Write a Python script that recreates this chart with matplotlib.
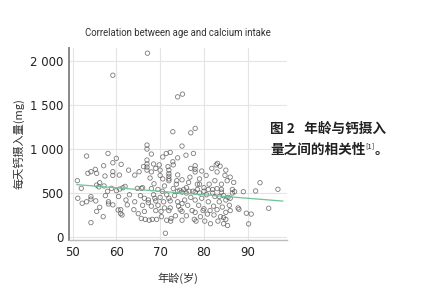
import matplotlib
matplotlib.use("Agg")
import matplotlib.pyplot as plt
from matplotlib.ticker import FuncFormatter

plt.rcParams['font.family'] = ['Noto Sans CJK SC', 'DejaVu Sans']

# (age, daily calcium intake in mg)
ages = [
    51.1, 51.2, 52.0, 52.2, 53.2, 53.2, 53.5, 54.2, 54.2, 54.2, 54.2, 55.2, 55.3, 55.5, 55.5, 55.5, 56.0, 56.2, 56.2,
    57.0, 57.1, 57.2, 57.4, 58.1, 58.2, 58.2, 58.9, 59.2, 59.2, 59.2, 59.2, 59.2, 60.0, 60.0, 60.4, 60.7, 60.8, 61.0,
    61.0, 61.1, 61.3, 61.5, 62.0, 62.5, 62.2,
    64.0, 64.2, 64.2, 64.8, 65.0, 65.2, 65.7, 65.7, 66.0, 66.2, 66.4, 66.4, 66.6, 67.0, 67.0, 67.0, 67.0, 67.0, 67.0,
    67.1, 67.3, 67.3, 67.5,
    67.7, 68.0, 68.0, 68.0, 68.0, 68.2, 68.5, 68.6, 68.8, 69.0, 69.0, 69.0, 69.2, 69.5, 69.8, 70.0, 70.0, 70.0, 70.2,
    70.3, 70.6, 70.6, 70.8, 71.0, 71.2, 71.4, 71.5, 71.8, 72.0, 72.0, 72.0, 72.0, 72.0, 72.0, 72.0, 72.3, 72.3, 72.3,
    72.4, 72.5,
    72.9, 72.9, 73.0, 73.3, 73.5, 73.7, 74.0, 74.0, 74.0, 74.0, 74.0, 74.2, 74.5, 74.6, 75.0, 75.0, 75.0, 75.0, 75.0,
    75.0, 75.1, 75.4, 75.6, 75.9, 76.0, 76.0, 76.3, 76.5, 76.6, 77.0, 77.0,
    77.3, 77.5, 77.6, 77.8, 78.0, 78.0, 78.0, 78.0, 78.0, 78.0, 78.0, 78.2, 78.5, 78.8, 79.0, 79.0, 79.2, 79.5, 79.5,
    80.0, 80.0, 80.2, 80.5, 80.6, 80.8, 81.0, 81.2, 81.4, 81.5, 81.8,
    82.0, 82.2, 82.3, 82.5, 82.8, 83.0, 83.0, 83.1, 83.2, 83.5, 83.5, 83.7, 83.8, 84.0, 84.0, 84.2, 84.5, 84.5, 84.8,
    85.0, 85.0, 85.0, 85.0, 85.3, 85.4, 85.8, 86.0, 86.5, 86.5, 86.8, 87.0, 87.8,
    88.0, 89.0, 89.7, 90.2, 90.8, 91.8, 92.8, 94.8, 96.9,
    70.5, 71.0, 71.5, 73.0, 73.8, 76.8, 77.0, 79.0, 80.0, 82.0, 83.0, 84.0, 85.5, 86.0, 86.0, 63.0, 62.8, 65.5, 66.0,
    58.0, 57.5, 60.5, 69.5, 68.5, 76.0, 78.5, 81.0, 82.5, 84.5, 79.8,
]
intake = [
    640, 440, 553, 383, 920, 400, 724, 742, 458, 430, 163, 769, 410, 724, 590, 290, 570, 617, 337,
    231, 810, 580, 693, 950, 400, 375, 553, 844, 742, 700, 365, 1840, 894, 526, 307, 704, 545, 310,
    265, 826, 250, 560, 575, 365, 420,
    310, 704, 400, 553, 265, 742, 553, 210, 560, 800, 440, 290, 200, 1045, 1000, 875, 830, 795, 760,
    2091, 420, 390, 190,
    670, 943, 740, 550, 350, 200, 830, 605, 440, 780, 410, 300, 200, 360, 820, 760, 700, 450, 290,
    230, 910, 660, 400, 330, 42, 950, 190, 800, 760, 720, 690, 660, 640, 440, 300, 962, 410, 330,
    180, 210,
    1197, 855, 550, 470, 240, 600, 1594, 900, 706, 520, 400, 350, 530, 310, 1034, 650, 510, 380, 290,
    190, 1625, 540, 420, 930, 500, 240, 360, 620, 520, 1185, 450,
    300, 520, 950, 200, 1235, 810, 770, 740, 510, 420, 280, 180, 540, 360, 600, 500, 230, 750, 440,
    520, 320, 180, 700, 480, 260, 400, 600, 300, 150, 780,
    500, 350, 250, 460, 820, 740, 310, 837, 180, 460, 400, 805, 230, 600, 510, 340, 470, 150, 700,
    760, 420, 280, 200, 640, 130, 360, 680, 500, 540, 620, 515, 330,
    314, 515, 270, 148, 260, 523, 617, 326, 542,
    520, 580, 480, 820, 640, 680, 780, 660, 560, 540, 550, 540, 450, 440, 300, 480, 760, 470, 360,
    520, 470, 460, 540, 480, 560, 600, 540, 640, 220, 300,
]

# fitted trend line end points
fit_x = [51, 98]
fit_y = [595, 408]

fig = plt.figure(figsize=(4.21, 3.0), dpi=100)
ax = fig.add_axes([0.164, 0.2, 0.518, 0.64])

ax.scatter(ages, intake, s=10, facecolors='none', edgecolors='#505050',
           linewidths=0.6, alpha=0.75, zorder=3)
ax.plot(fit_x, fit_y, color='#6cc497', lw=0.9, zorder=4)

ax.set_xlim(49.2, 99)
ax.set_ylim(-35, 2150)
ax.set_xticks([50, 60, 70, 80, 90])
ax.set_yticks([0, 500, 1000, 1500, 2000])
ax.yaxis.set_major_formatter(FuncFormatter(lambda v, p: f"{int(v):,}".replace(",", " ")))
ax.grid(True, color='#e4e4e4', lw=0.8, zorder=0)
ax.tick_params(length=0, labelsize=8.5, colors='#222222', pad=4)
for lab in ax.get_xticklabels() + ax.get_yticklabels():
    lab.set_family(['DejaVu Sans'])

for s in ['top', 'right']:
    ax.spines[s].set_visible(False)
ax.spines['left'].set_color('#888888')
ax.spines['left'].set_linewidth(1.4)
ax.spines['bottom'].set_color('#bbbbbb')
ax.spines['bottom'].set_linewidth(1.0)

ax.set_title("Correlation between age and calcium intake", fontsize=6.9,
             family=['Roboto', 'DejaVu Sans'], color='#333333', pad=9)
ax.set_ylabel("每天钙摄入量(mg)", fontsize=8, color='#333333', labelpad=4)
ax.set_xlabel("年龄(岁)", fontsize=8, color='#333333', labelpad=10)

# caption to the right
fig.text(270 / 421, 1 - 129 / 300, "图 2   年龄与钙摄入", fontsize=9.8, weight='bold',
         va='center', ha='left', color='#222222')
cap2 = fig.text(270 / 421, 1 - 150 / 300, "量之间的相关性", fontsize=9.8, weight='bold',
                va='center', ha='left', color='#222222')
fig.canvas.draw()
bb = cap2.get_window_extent()
sup = fig.text(bb.x1 / fig.bbox.width, 1 - 146 / 300, "[1]", fontsize=5.5,
               va='center', ha='left', color='#222222')
fig.canvas.draw()
bb2 = sup.get_window_extent()
fig.text(bb2.x1 / fig.bbox.width, 1 - 150 / 300, "。", fontsize=9.8, weight='bold',
         va='center', ha='left', color='#222222')

fig.savefig("out.png", dpi=100)
